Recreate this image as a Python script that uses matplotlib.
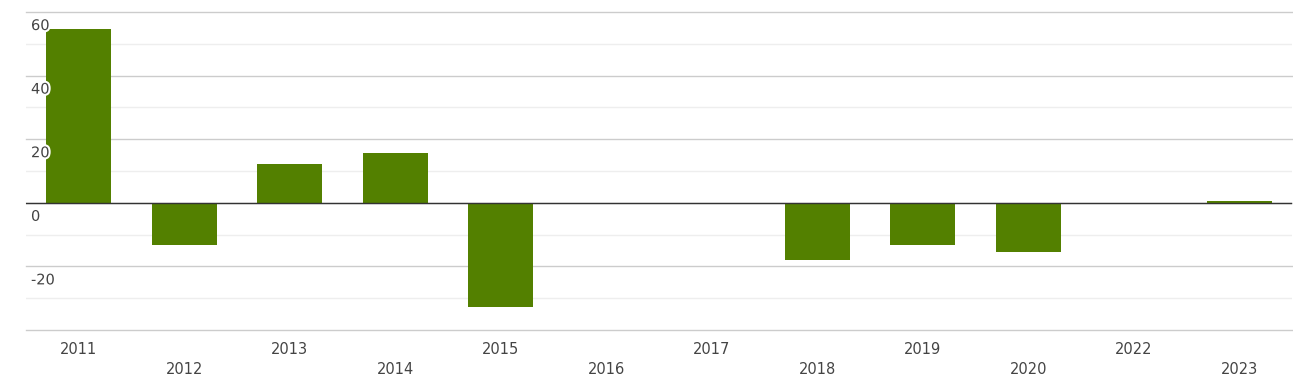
import numpy as np
import matplotlib.pyplot as plt
import matplotlib.patheffects as pe

# data
years = ["2011", "2012", "2013", "2014", "2015", "2016", "2017",
         "2018", "2019", "2020", "2022", "2023"]
values = [54.7, -13.2, 12.3, 15.7, -32.7, 0.0, 0.0,
          -17.9, -13.2, -15.4, 0.0, 0.6]
y_labels = [60, 40, 20, 0, -20]

fig = plt.figure(figsize=(12.93, 3.84), dpi=100)
ax = fig.add_axes([26 / 1293, 1 - 330 / 384, 1266 / 1293, 318 / 384])

x = np.arange(len(years))
ax.bar(x, values, width=0.62, color="#538000", zorder=3)

ax.set_xlim(-0.5, len(years) - 0.5)
ax.set_ylim(-40, 60)

# grid lines
for v in range(-30, 60, 20):
    ax.axhline(v, color="#eeeeee", lw=1, zorder=1)
for v in range(-40, 61, 20):
    ax.axhline(v, color="#cccccc", lw=1, zorder=1, clip_on=False)
ax.axhline(0, color="#333333", lw=1, zorder=4)

for s in ax.spines.values():
    s.set_visible(False)
ax.set_xticks([])
ax.set_yticks([])

# y labels inside the plot, below each grid line
for v in y_labels:
    ax.annotate(str(v), xy=(0, v), xycoords=("axes fraction", "data"),
                xytext=(5, -6), textcoords="offset pixels",
                ha="left", va="top", fontsize=10.5, color="#444444", zorder=5,
                path_effects=[pe.withStroke(linewidth=3, foreground="white")])

# staggered x labels
for i, yr in enumerate(years):
    off = -19 if i % 2 == 0 else -39
    ax.annotate(yr, xy=(i, 0), xycoords=("data", "axes fraction"),
                xytext=(0, off), textcoords="offset pixels",
                ha="center", va="center", fontsize=10.5, color="#444444")

fig.savefig("out.png", dpi=100)
